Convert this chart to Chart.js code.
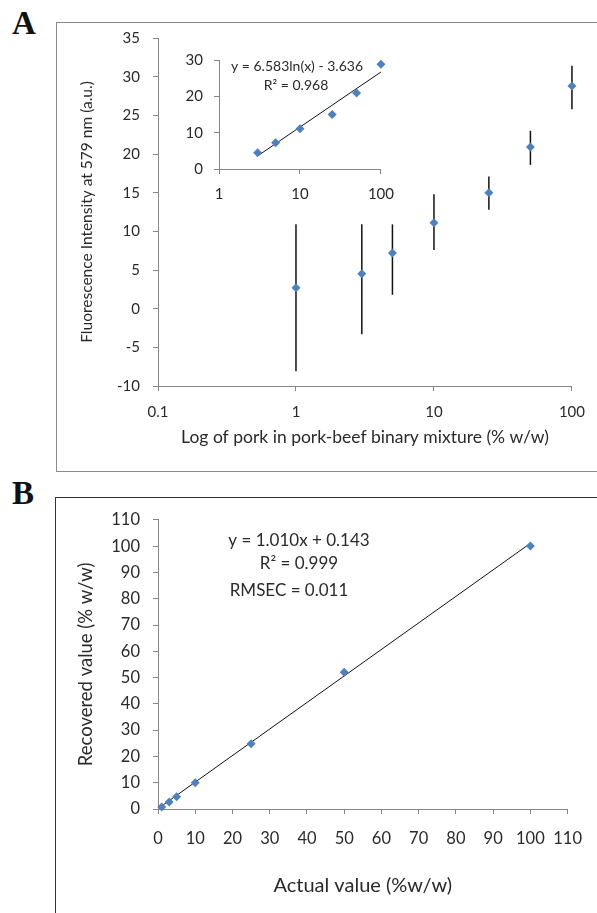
<!DOCTYPE html>
<html>
<head>
<meta charset="utf-8">
<script src="https://cdn.jsdelivr.net/npm/chart.js@4.4.0/dist/chart.umd.min.js"></script>
<style>
  body { margin: 0; background: #fff; }
  #page { position: relative; width: 597px; height: 913px; overflow: hidden; }
  canvas { position: absolute; }
  .frame { position: absolute; box-sizing: border-box; }
  .letter { position: absolute; font: bold 33px "Liberation Serif", "Times New Roman", serif; line-height: 1; color: #111; }
</style>
</head>
<body>
<div id="page">
  <div class="frame" style="left:56px; top:22px; width:620px; height:450px; border:1.5px solid #8a8a8a;"></div>
  <div class="frame" style="left:55px; top:497px; width:620px; height:500px; border:1.5px solid #333;"></div>
  <div class="letter" style="left:12px; top:7px;">A</div>
  <div class="letter" style="left:12px; top:477px;">B</div>
  <canvas id="chartA" width="597" height="470" style="left:0; top:0;"></canvas>
  <canvas id="chartInset" width="245" height="175" style="left:160px; top:40px;"></canvas>
  <canvas id="chartB" width="597" height="416" style="left:0; top:497px;"></canvas>
</div>
<script>
// ---- panel A: fluorescence vs pork content (log x) ----
const concLevels = [1, 3, 5, 10, 25, 50, 100];
const fluorMean  = [2.7, 4.5, 7.2, 11.1, 15.0, 20.9, 28.8];
const fluorLow   = [-8.1, -3.3, 1.8, 7.6, 12.8, 18.6, 25.8];
const fluorHigh  = [10.9, 10.9, 10.9, 14.8, 17.1, 23.0, 31.4];
const logTicksA  = [0.1, 1, 10, 100];

// ---- inset: log fit ----
const insetConc  = [3, 5, 10, 25, 50, 100];
const insetMean  = [4.5, 7.2, 11.1, 15.0, 20.9, 28.8];
const insetFitX  = [3, 100];
const insetFitY  = [3.6, 26.7];
const logTicksInset = [1, 10, 100];

// ---- panel B: recovered vs actual ----
const actualVal    = [1, 3, 5, 10, 25, 50, 100];
const recoveredVal = [0.8, 2.7, 4.7, 10.0, 24.8, 52.0, 100.1];
const fitBX = [1, 100];
const fitBY = [1.15, 101.1];

const FONT = 'Lato, "Open Sans", sans-serif';
const AXIS_GRAY = '#868686';
const TEXT = '#2a2a2a';
const BLUE = '#4f81bd';

Chart.defaults.animation = false;
Chart.defaults.font.family = FONT;

function toPoints(xs, ys) {
  return xs.map((x, i) => ({ x: x, y: ys[i] }));
}

// one axis, excel-like: no gridlines, small outside ticks
function makeAxis(o) {
  const horizontal = o.position === 'bottom';
  return {
    type: o.type || 'linear',
    position: o.position,
    min: o.min,
    max: o.max,
    grid: { display: true, drawOnChartArea: false, drawTicks: true, tickLength: 5, color: AXIS_GRAY, lineWidth: 1 },
    border: { display: true, color: AXIS_GRAY, width: 1 },
    ticks: {
      stepSize: o.step,
      autoSkip: false,
      maxRotation: 0,
      padding: o.tickPad,
      color: TEXT,
      font: { size: o.tickSize },
      callback: o.tickValues ? (v) => String(v) : undefined
    },
    title: o.title ? {
      display: true,
      text: o.title,
      color: TEXT,
      font: { size: o.titleSize },
      padding: o.titlePad
    } : { display: false },
    afterBuildTicks: o.tickValues ? (s) => { s.ticks = o.tickValues.map(v => ({ value: v })); } : undefined,
    afterFit: (s) => { if (horizontal) s.height = o.size; else s.width = o.size; }
  };
}

function baseOptions(padding, scales) {
  return {
    responsive: false,
    maintainAspectRatio: false,
    layout: { padding: padding },
    plugins: { legend: { display: false }, tooltip: { enabled: false } },
    scales: scales
  };
}

function markerSet(points) {
  return {
    data: points,
    pointStyle: 'rectRot',
    pointRadius: 4.5,
    backgroundColor: BLUE,
    borderColor: BLUE,
    borderWidth: 0,
    clip: false,
    order: 1
  };
}

function fitLine(points) {
  return {
    type: 'line',
    data: points,
    borderColor: '#111',
    borderWidth: 1,
    pointRadius: 0,
    clip: false,
    order: 2
  };
}

// ---------- chart A ----------
const errorBarSets = concLevels.map((c, i) => ({
  type: 'line',
  data: [{ x: c, y: fluorLow[i] }, { x: c, y: fluorHigh[i] }],
  borderColor: '#111',
  borderWidth: 1.5,
  pointRadius: 0,
  clip: false,
  order: 2
}));

new Chart(document.getElementById('chartA'), {
  type: 'scatter',
  data: {
    datasets: [markerSet(toPoints(concLevels, fluorMean))].concat(errorBarSets)
  },
  options: baseOptions({ left: 0, top: 38, right: 23, bottom: 0 }, {
    x: makeAxis({ type: 'logarithmic', position: 'bottom', min: 0.1, max: 100, tickValues: logTicksA,
      tickSize: 15, tickPad: 12, size: 84,
      title: 'Log of pork in pork-beef binary mixture (% w/w)', titleSize: 17.5, titlePad: { top: 0, bottom: 22 } }),
    y: makeAxis({ position: 'left', min: -10, max: 35, step: 5, tickSize: 15, tickPad: 13, size: 158,
      title: 'Fluorescence Intensity at 579 nm (a.u.)', titleSize: 15.5, titlePad: { top: 78, bottom: 0 } })
  })
});

// ---------- inset ----------
const insetText = {
  id: 'insetText',
  afterDatasetsDraw(chart) {
    const { ctx, chartArea: a } = chart;
    ctx.save();
    ctx.fillStyle = TEXT;
    ctx.font = '14px ' + FONT;
    ctx.textAlign = 'center';
    ctx.textBaseline = 'middle';
    ctx.fillText('y = 6.583ln(x) - 3.636', a.left + 78, a.top + 6);
    ctx.fillText('R\u00B2 = 0.968', a.left + 77, a.top + 25);
    ctx.restore();
  }
};

new Chart(document.getElementById('chartInset'), {
  type: 'scatter',
  data: {
    datasets: [markerSet(toPoints(insetConc, insetMean)), fitLine(toPoints(insetFitX, insetFitY))]
  },
  options: baseOptions({ left: 0, top: 17, right: 17, bottom: 0 }, {
    x: makeAxis({ type: 'logarithmic', position: 'bottom', min: 1, max: 100, tickValues: logTicksInset,
      tickSize: 15, tickPad: 11, size: 46 }),
    y: makeAxis({ position: 'left', min: 0, max: 30, step: 10, tickSize: 15, tickPad: 11, size: 59 })
  }),
  plugins: [insetText]
});

// ---------- chart B ----------
const statsText = {
  id: 'statsText',
  afterDatasetsDraw(chart) {
    const { ctx, chartArea: a } = chart;
    ctx.save();
    ctx.fillStyle = TEXT;
    ctx.font = '17px ' + FONT;
    ctx.textAlign = 'center';
    ctx.textBaseline = 'middle';
    ctx.fillText('y = 1.010x + 0.143', a.left + 141, a.top + 21);
    ctx.fillText('R\u00B2 = 0.999', a.left + 141, a.top + 44);
    ctx.fillText('RMSEC = 0.011', a.left + 131, a.top + 71);
    ctx.restore();
  }
};

new Chart(document.getElementById('chartB'), {
  type: 'scatter',
  data: {
    datasets: [markerSet(toPoints(actualVal, recoveredVal)), fitLine(toPoints(fitBX, fitBY))]
  },
  options: baseOptions({ left: 0, top: 11, right: 21, bottom: 0 }, {
    x: makeAxis({ position: 'bottom', min: 0, max: 110, step: 10, tickSize: 16.5, tickPad: 15, size: 104,
      title: 'Actual value (%w/w)', titleSize: 20, titlePad: { top: 0, bottom: 15 } }),
    y: makeAxis({ position: 'left', min: 0, max: 110, step: 10, tickSize: 16.5, tickPad: 13, size: 158,
      title: 'Recovered value (% w/w)', titleSize: 18.5, titlePad: { top: 75, bottom: 0 } })
  }),
  plugins: [statsText]
});
</script>
</body>
</html>
